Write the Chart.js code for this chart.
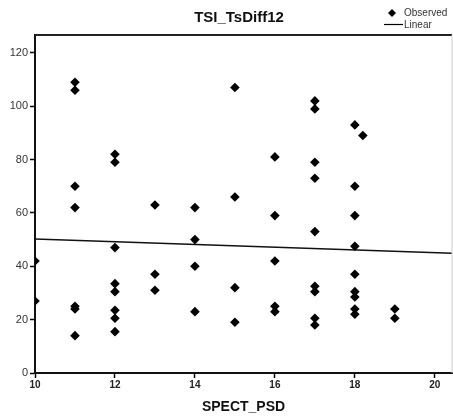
<!DOCTYPE html>
<html>
<head>
<meta charset="utf-8">
<script src="https://cdn.jsdelivr.net/npm/chart.js@4/dist/chart.umd.min.js"></script>
<style>
  html, body { margin: 0; padding: 0; background: #fff; }
  canvas { display: block; }
</style>
</head>
<body>
<canvas id="myChart" width="453" height="419"></canvas>
<script>
// Observed points (SPECT_PSD vs TSI_TsDiff12)
const psd = [
    10, 10,
    11, 11, 11, 11, 11, 11, 11,
    12, 12, 12, 12, 12, 12, 12, 12,
    13, 13, 13,
    14, 14, 14, 14,
    15, 15, 15, 15,
    16, 16, 16, 16, 16,
    17, 17, 17, 17, 17, 17, 17, 17, 17,
    18, 18, 18, 18, 18, 18, 18, 18, 18,
    18.2,
    19, 19
];
const tsDiff = [
    42, 27,
    109, 106, 70, 62, 25, 24, 14,
    82, 79, 47, 33.5, 30.5, 23.5, 20.5, 15.5,
    63, 37, 31,
    62, 50, 40, 23,
    107, 66, 32, 19,
    81, 59, 42, 25, 23,
    102, 99, 79, 73, 53, 32.5, 30.5, 20.5, 18,
    93, 70, 59, 47.5, 37, 30.5, 28.5, 24, 22,
    89,
    24, 20.5
];
// Linear fit line ends
const fitX = [10, 20.43];
const fitY = [50.2, 44.9];
// Tick labels
const xTicks = [10, 12, 14, 16, 18, 20];
const yTicks = [0, 20, 40, 60, 80, 100, 120];

const observed = psd.map((x, i) => ({ x: x, y: tsDiff[i] }));
const linear = fitX.map((x, i) => ({ x: x, y: fitY[i] }));

// 標題 + 外框 + 圖例
const framePlugin = {
    id: 'frame',
    afterDraw(chart) {
        const { ctx, chartArea } = chart;
        ctx.save();
        // title
        ctx.font = 'bold 15px "Liberation Sans", Arial, sans-serif';
        ctx.fillStyle = '#111';
        ctx.textAlign = 'center';
        ctx.textBaseline = 'middle';
        ctx.fillText('TSI_TsDiff12', 239, 18);

        ctx.strokeStyle = '#222';
        ctx.lineWidth = 2;
        ctx.beginPath();
        ctx.moveTo(chartArea.left, chartArea.top);
        ctx.lineTo(chartArea.right, chartArea.top);
        ctx.stroke();
        ctx.lineWidth = 1;
        ctx.strokeStyle = '#ccc';
        ctx.beginPath();
        ctx.moveTo(chartArea.right, chartArea.top);
        ctx.lineTo(chartArea.right, chartArea.bottom);
        ctx.stroke();

        // legend
        ctx.fillStyle = '#000';
        ctx.beginPath();
        ctx.moveTo(392, 9);
        ctx.lineTo(396, 13);
        ctx.lineTo(392, 17);
        ctx.lineTo(388, 13);
        ctx.closePath();
        ctx.fill();
        ctx.strokeStyle = '#000';
        ctx.lineWidth = 1.2;
        ctx.beginPath();
        ctx.moveTo(384, 24.5);
        ctx.lineTo(403, 24.5);
        ctx.stroke();
        ctx.font = '10px "Liberation Sans", Arial, sans-serif';
        ctx.textAlign = 'left';
        ctx.fillStyle = '#333';
        ctx.fillText('Observed', 404, 13.5);
        ctx.fillText('Linear', 404, 25);
        ctx.restore();
    }
};

const ctx = document.querySelector('#myChart').getContext('2d');
const myChart = new Chart(ctx, {
    type: 'scatter',
    data: {
        datasets: [{
            label: 'Observed',
            data: observed,
            pointStyle: 'rectRot',
            pointRadius: 4.8,
            pointHoverRadius: 4.8,
            backgroundColor: '#000',
            borderColor: '#000',
            borderWidth: 0,
            clip: 0
        }, {
            type: 'line',
            label: 'Linear',
            data: linear,
            borderColor: '#111',
            borderWidth: 1.5,
            pointRadius: 0,
            fill: false,
            clip: 0
        }]
    },
    options: {
        responsive: false,
        devicePixelRatio: 1,
        animation: false,
        layout: { autoPadding: false, padding: { left: 0, right: 1, top: 35, bottom: 0 } },
        plugins: {
            legend: { display: false },
            tooltip: { enabled: false },
            title: { display: false }
        },
        scales: {
            x: {
                type: 'linear',
                min: 10,
                max: 20.43,
                afterBuildTicks: (scale) => {
                    scale.ticks = xTicks.map(v => ({ value: v }));
                },
                afterFit: (scale) => {
                    scale.height = 46;
                    scale.paddingLeft = 0;
                    scale.paddingRight = 0;
                },
                grid: {
                    drawOnChartArea: false,
                    drawTicks: true,
                    tickLength: 5,
                    tickColor: '#000',
                    tickWidth: 1.5
                },
                border: { display: true, color: '#111', width: 2 },
                ticks: {
                    padding: 1,
                    color: '#222',
                    maxRotation: 0,
                    font: { family: '"Liberation Sans", Arial, sans-serif', size: 10, weight: 'bold' }
                },
                title: {
                    display: true,
                    text: 'SPECT_PSD',
                    color: '#111',
                    font: { family: '"Liberation Sans", Arial, sans-serif', size: 14, weight: 'bold' },
                    padding: { top: 0, bottom: 3 }
                }
            },
            y: {
                type: 'linear',
                min: 0,
                max: 126.7,
                afterBuildTicks: (scale) => {
                    scale.ticks = yTicks.map(v => ({ value: v }));
                },
                afterFit: (scale) => {
                    scale.width = 35;
                    scale.paddingTop = 0;
                    scale.paddingBottom = 0;
                },
                grid: {
                    drawOnChartArea: false,
                    drawTicks: true,
                    tickLength: 5,
                    tickColor: '#000',
                    tickWidth: 1.5
                },
                border: { display: true, color: '#111', width: 2 },
                ticks: {
                    padding: 2,
                    color: '#333',
                    font: { family: '"Liberation Sans", Arial, sans-serif', size: 11 }
                }
            }
        }
    },
    plugins: [framePlugin]
});
</script>
</body>
</html>
